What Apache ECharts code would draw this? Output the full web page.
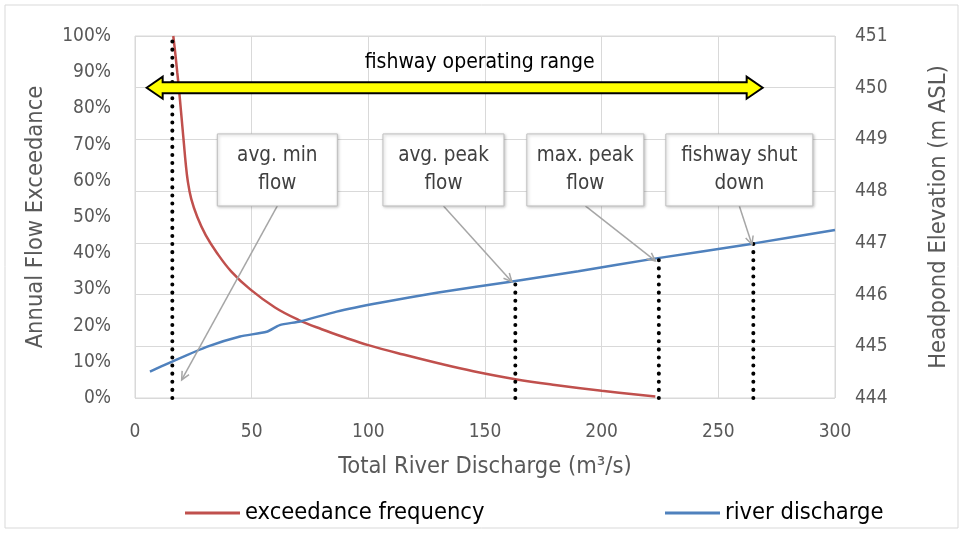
<!DOCTYPE html>
<html>
<head>
<meta charset="utf-8">
<script src="https://cdn.jsdelivr.net/npm/echarts@6/dist/echarts.min.js"></script>
<style>
  html, body { margin: 0; padding: 0; background: #fff; }
  #chart { width: 963px; height: 533px; }
</style>
</head>
<body>
<div id="chart"></div>
<script>
// 河流流量 (m3/s) 与超越频率 (%)
var exceedX = [16.4, 17.3, 18.1, 18.9, 19.6, 20.3, 21.0, 21.7, 22.6, 24.1, 26.7, 30.3, 35.2, 41.2, 49.4, 60, 70, 80, 90, 100, 115, 130, 145, 163, 180, 200, 223]
var exceedY = [100, 95, 90, 85, 80, 75, 70, 65, 60, 55, 50, 45, 40, 35, 30, 25, 21.6, 19, 16.7, 14.6, 12, 9.6, 7.4, 5.2, 3.6, 2, 0.4]

// 河流流量 (m3/s) 与库水位 (m ASL)
var dischargeX = [6.4, 15.7, 30.7, 45, 56.4, 62, 70.7, 86.4, 105, 130, 161, 190, 222, 264, 300]
var dischargeY = [444.51, 444.7, 444.99, 445.19, 445.28, 445.41, 445.48, 445.67, 445.84, 446.04, 446.25, 446.45, 446.69, 446.98, 447.25]

// 虚线标记: 流量 与 顶部水位
var markerX = [163, 224.5, 265]
var markerTop = [446.26, 446.71, 446.98]
var minFlowX = 16

// 鱼道运行范围
var rangeFrom = 5
var rangeTo = 269
var rangeLevel = 450

// 注释
var calloutLabels = ['avg. min\nflow', 'avg. peak\nflow', 'max. peak\nflow', 'fishway shut\ndown']
var calloutTargetX = [20, 161.5, 223, 264.4]
var calloutTargetY = [444.35, 446.25, 446.65, 446.97]

var FONT = "'Liberation Sans Narrow', 'DejaVu Sans Condensed', 'Noto Sans', sans-serif"
var GRAY = '#595959'

var myChart = echarts.init(document.getElementById('chart'))

// 注释框位置 (数据坐标)
var boxX = [61, 132.2, 193, 259]
var boxY = 448.41
var boxW = [120, 121, 117, 147]

var seriesList = [
  {
    name: 'exceedance frequency',
    type: 'line',
    yAxisIndex: 0,
    smooth: 0.4,
    symbol: 'none',
    lineStyle: { color: '#c0504d', width: 2.5 },
    itemStyle: { color: '#c0504d' },
    z: 3,
    data: exceedX.map(function (x, i) { return [x, exceedY[i]] })
  },
  {
    name: 'river discharge',
    type: 'line',
    yAxisIndex: 1,
    smooth: 0.2,
    symbol: 'none',
    lineStyle: { color: '#4f81bd', width: 2.5 },
    itemStyle: { color: '#4f81bd' },
    z: 3,
    data: dischargeX.map(function (x, i) { return [x, dischargeY[i]] })
  },
  {
    name: 'min flow marker',
    type: 'line',
    yAxisIndex: 0,
    symbol: 'none',
    lineStyle: { color: '#000', width: 4, type: [0.1, 8], cap: 'round' },
    z: 4,
    data: [[minFlowX, 0], [minFlowX, 100]]
  }
]

markerX.forEach(function (x, i) {
  seriesList.push({
    name: 'marker ' + i,
    type: 'line',
    yAxisIndex: 1,
    symbol: 'none',
    lineStyle: { color: '#000', width: 4, type: [0.1, 8], cap: 'round' },
    z: 4,
    data: [[x, 444], [x, markerTop[i]]]
  })
})

// 黄色双向箭头
seriesList.push({
  name: 'operating range',
  type: 'custom',
  yAxisIndex: 1,
  z: 6,
  data: [[rangeFrom, rangeLevel, rangeTo, rangeLevel]],
  renderItem: function (params, api) {
    var l = api.coord([api.value(0), api.value(1)])
    var r = api.coord([api.value(2), api.value(3)])
    var y = l[1]
    var hl = 16, hh = 11, sh = 5.5
    var pts = [
      [l[0], y], [l[0] + hl, y - hh], [l[0] + hl, y - sh], [r[0] - hl, y - sh], [r[0] - hl, y - hh],
      [r[0], y], [r[0] - hl, y + hh], [r[0] - hl, y + sh], [l[0] + hl, y + sh], [l[0] + hl, y + hh]
    ]
    return {
      type: 'group',
      children: [
        {
          type: 'polygon',
          shape: { points: pts },
          style: { fill: '#ffff00', stroke: '#000', lineWidth: 2, lineJoin: 'miter' }
        },
        {
          type: 'text',
          x: (l[0] + r[0]) / 2 + 25,
          y: y - 25,
          style: {
            text: 'fishway operating range',
            fill: '#000',
            font: '21px ' + FONT,
            align: 'center',
            verticalAlign: 'middle'
          }
        }
      ]
    }
  }
})

// 注释框 + 指示箭头
seriesList.push({
  name: 'callouts',
  type: 'custom',
  yAxisIndex: 1,
  z: 7,
  data: calloutLabels.map(function (t, i) {
    return [boxX[i], boxY, calloutTargetX[i], calloutTargetY[i]]
  }),
  renderItem: function (params, api) {
    var i = params.dataIndex
    var c = api.coord([api.value(0), api.value(1)])
    var t = api.coord([api.value(2), api.value(3)])
    var w = boxW[i], h = 72
    var sx = c[0], sy = c[1] + h / 2
    var ang = Math.atan2(t[1] - sy, t[0] - sx)
    var al = 9, aa = 0.45
    var a1 = [t[0] - al * Math.cos(ang - aa), t[1] - al * Math.sin(ang - aa)]
    var a2 = [t[0] - al * Math.cos(ang + aa), t[1] - al * Math.sin(ang + aa)]
    return {
      type: 'group',
      children: [
        {
          type: 'line',
          shape: { x1: sx, y1: sy, x2: t[0], y2: t[1] },
          style: { stroke: '#a6a6a6', lineWidth: 1.5 }
        },
        {
          type: 'polyline',
          shape: { points: [a1, t, a2] },
          style: { stroke: '#a6a6a6', lineWidth: 1.5, fill: null }
        },
        {
          type: 'rect',
          shape: { x: c[0] - w / 2, y: c[1] - h / 2, width: w, height: h },
          style: {
            fill: '#fff', stroke: '#bfbfbf', lineWidth: 1,
            shadowBlur: 3, shadowColor: 'rgba(0,0,0,0.25)', shadowOffsetX: 1, shadowOffsetY: 1
          }
        },
        {
          type: 'text',
          x: c[0],
          y: c[1],
          style: {
            text: calloutLabels[i],
            fill: '#404040',
            font: '20.5px ' + FONT,
            lineHeight: 28,
            align: 'center',
            verticalAlign: 'middle'
          }
        }
      ]
    }
  }
})

var option = {
  animation: false,
  backgroundColor: '#fff',
  textStyle: { fontFamily: FONT },
  grid: {
    left: 135,
    right: 128,
    top: 36,
    bottom: 135,
    show: true,
    borderColor: '#d9d9d9',
    borderWidth: 1
  },
  legend: [
    {
      data: ['exceedance frequency'],
      left: 180,
      top: 496,
      icon: 'rect',
      itemWidth: 55,
      itemHeight: 3,
      itemGap: 4,
      textStyle: { color: '#000', fontSize: 23.5, fontFamily: FONT }
    },
    {
      data: ['river discharge'],
      left: 660,
      top: 496,
      icon: 'rect',
      itemWidth: 55,
      itemHeight: 3,
      itemGap: 4,
      textStyle: { color: '#000', fontSize: 23.5, fontFamily: FONT }
    }
  ],
  graphic: [
    {
      type: 'rect',
      shape: { x: 5, y: 5, width: 953, height: 523 },
      style: { fill: null, stroke: '#d9d9d9', lineWidth: 1 },
      z: -1
    }
  ],
  xAxis: {
    type: 'value',
    min: 0,
    max: 300,
    interval: 50,
    name: 'Total River Discharge (m³/s)',
    nameLocation: 'middle',
    nameGap: 57,
    nameTextStyle: { color: GRAY, fontSize: 23.5, fontFamily: FONT },
    axisLine: { show: false },
    axisTick: { show: false },
    axisLabel: { color: GRAY, fontSize: 19, margin: 25, fontFamily: FONT },
    splitLine: { show: true, lineStyle: { color: '#d9d9d9', width: 1 } }
  },
  yAxis: [
    {
      type: 'value',
      min: 0,
      max: 100,
      interval: 10,
      name: 'Annual Flow Exceedance',
      nameLocation: 'middle',
      nameGap: 87,
      nameTextStyle: { color: GRAY, fontSize: 23.5, fontFamily: FONT },
      axisLine: { show: false },
      axisTick: { show: false },
      axisLabel: { color: GRAY, fontSize: 19, margin: 24, formatter: '{value}%', fontFamily: FONT },
      splitLine: { show: false }
    },
    {
      type: 'value',
      min: 444,
      max: 451,
      interval: 1,
      position: 'right',
      name: 'Headpond Elevation (m ASL)',
      nameLocation: 'middle',
      nameGap: 92,
      nameRotate: 90,
      nameTextStyle: { color: GRAY, fontSize: 23.5, fontFamily: FONT },
      axisLine: { show: false },
      axisTick: { show: false },
      axisLabel: { color: GRAY, fontSize: 19, margin: 20, fontFamily: FONT },
      splitLine: { show: true, lineStyle: { color: '#d9d9d9', width: 1 } }
    }
  ],
  series: seriesList
}

myChart.setOption(option)
</script>
</body>
</html>
